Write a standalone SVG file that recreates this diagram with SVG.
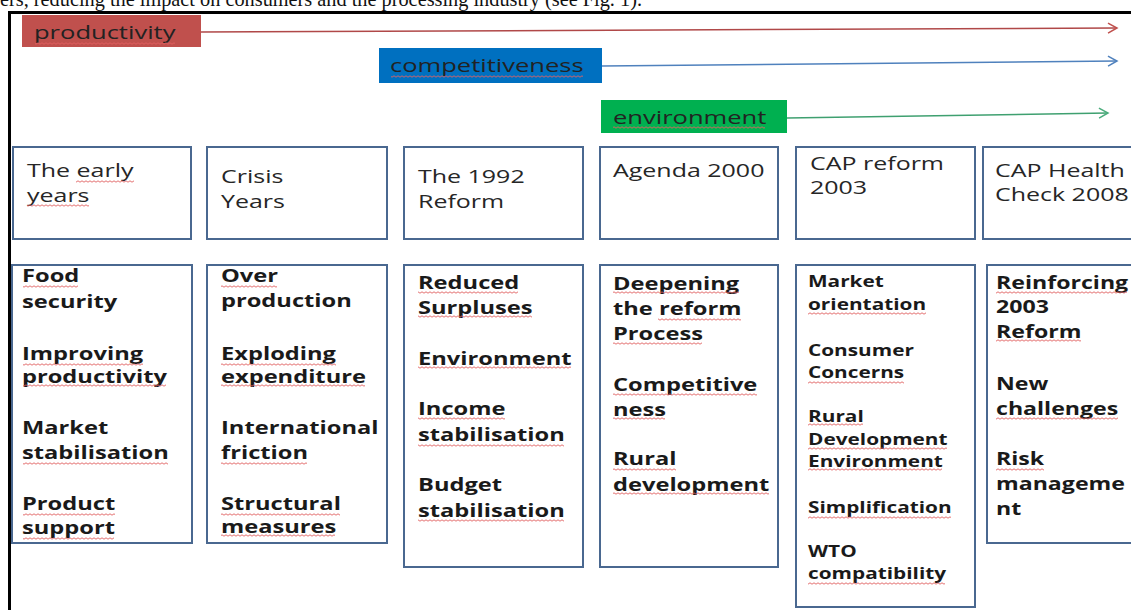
<svg xmlns="http://www.w3.org/2000/svg" width="1131" height="610" viewBox="0 0 1131 610">
<style>
.cap{font-family:"Liberation Serif",serif;font-size:21px;fill:#111}
.frame{stroke:#000;stroke-width:3;fill:none}
.lbl{font-family:"Open Sans","Liberation Sans",sans-serif;font-size:18.5px;fill:#222}
.box{fill:#fff;stroke:#4a6890;stroke-width:2}
.hd{font-family:"Open Sans","Liberation Sans",sans-serif;font-size:18.5px;fill:#262626}
.ct{font-family:"Open Sans","Liberation Sans",sans-serif;font-size:18.5px;font-weight:700;fill:#1a1a1a}
.ct5{font-size:16px}
.sq{fill:url(#wv)}
.ar{fill:none;stroke-width:1.5}
</style>
<defs>
<pattern id="wv" width="4" height="3" patternUnits="userSpaceOnUse"><path d="M0,2.2 C1,2.2 1,0.8 2,0.8 C3,0.8 3,2.2 4,2.2" fill="none" stroke="#e06060" stroke-width="0.9"/></pattern>
<marker id="mr" markerWidth="12" markerHeight="12" refX="10" refY="6" orient="auto" markerUnits="userSpaceOnUse"><path d="M1,1 L10,6 L1,11" fill="none" stroke="#c0504d" stroke-width="1.5"/></marker>
<marker id="mb" markerWidth="12" markerHeight="12" refX="10" refY="6" orient="auto" markerUnits="userSpaceOnUse"><path d="M1,1 L10,6 L1,11" fill="none" stroke="#4f81bd" stroke-width="1.5"/></marker>
<marker id="mg" markerWidth="12" markerHeight="12" refX="10" refY="6" orient="auto" markerUnits="userSpaceOnUse"><path d="M1,1 L10,6 L1,11" fill="none" stroke="#4bac7c" stroke-width="1.5"/></marker>
</defs>
<rect width="1131" height="610" fill="#fff"/>
<text class="cap" x="0" y="6" textLength="642" lengthAdjust="spacingAndGlyphs">ers, reducing the impact on consumers and the processing industry (see Fig. 1).</text>
<path class="frame" d="M9.5,610 V12.5 H1131"/>

<g id="connectors">
<line class="ar" x1="201" y1="32" x2="1117" y2="28" stroke="#b04848" marker-end="url(#mr)"/>
<line class="ar" x1="602" y1="66" x2="1117" y2="61" stroke="#4f81bd" marker-end="url(#mb)"/>
<line class="ar" x1="787" y1="118" x2="1108" y2="113" stroke="#3fa070" marker-end="url(#mg)"/>
</g>

<g id="productivity">
<rect x="22" y="15" width="179" height="32" fill="#c0504d"/>
<g transform="translate(34,0) scale(1.38,1)"><text class="lbl" x="0" y="39">productivity</text></g>
<rect class="sq" x="35" y="42" width="140" height="3"/>
</g>
<g id="competitiveness">
<rect x="379" y="48" width="223" height="35" fill="#0070c0"/>
<g transform="translate(390,0) scale(1.38,1)"><text class="lbl" x="0" y="72">competitiveness</text></g>
<rect class="sq" x="391" y="75" width="192" height="3"/>
</g>
<g id="environment">
<rect x="601" y="100" width="186" height="33" fill="#00b050"/>
<g transform="translate(613,0) scale(1.38,1)"><text class="lbl" x="0" y="124">environment</text></g>
<rect class="sq" x="613" y="126" width="152" height="3"/>
</g>

<g id="h1">
<rect class="box" x="13" y="147" width="178" height="92"/>
<g transform="translate(27,0) scale(1.35,1)"><text class="hd" x="0" y="177">The early</text><text class="hd" x="0" y="202">years</text></g>
<rect class="sq" x="76" y="180" width="58" height="3"/><rect class="sq" x="27" y="204" width="62" height="3"/>
</g>
<g id="h2">
<rect class="box" x="207" y="147" width="180" height="92"/>
<g transform="translate(221,0) scale(1.35,1)"><text class="hd" x="0" y="183">Crisis</text><text class="hd" x="0" y="208">Years</text></g>
</g>
<g id="h3">
<rect class="box" x="404" y="147" width="179" height="92"/>
<g transform="translate(418,0) scale(1.35,1)"><text class="hd" x="0" y="183">The 1992</text><text class="hd" x="0" y="208">Reform</text></g>
</g>
<g id="h4">
<rect class="box" x="600" y="147" width="178" height="92"/>
<g transform="translate(613,0) scale(1.35,1)"><text class="hd" x="0" y="177">Agenda 2000</text></g>
</g>
<g id="h5">
<rect class="box" x="796" y="147" width="179" height="92"/>
<g transform="translate(810,0) scale(1.35,1)"><text class="hd" x="0" y="170">CAP reform</text><text class="hd" x="0" y="194">2003</text></g>
</g>
<g id="h6">
<rect class="box" x="983" y="147" width="160" height="92"/>
<g transform="translate(995,0) scale(1.35,1)"><text class="hd" x="0" y="177">CAP Health</text><text class="hd" x="0" y="201">Check 2008</text></g>
</g>

<g id="c1">
<rect class="box" x="12" y="265" width="180" height="278"/>
<g transform="translate(22,0) scale(1.28,1)">
<text class="ct" x="0" y="282">Food</text><text class="ct" x="0" y="308">security</text>
<text class="ct" x="0" y="360">Improving</text><text class="ct" x="0" y="383">productivity</text>
<text class="ct" x="0" y="434">Market</text><text class="ct" x="0" y="459">stabilisation</text>
<text class="ct" x="0" y="510">Product</text><text class="ct" x="0" y="534">support</text>
</g>
<rect class="sq" x="23" y="285" width="55" height="3"/><rect class="sq" x="23" y="363" width="120" height="3"/><rect class="sq" x="23" y="384" width="143" height="3"/><rect class="sq" x="23" y="462" width="145" height="3"/><rect class="sq" x="23" y="513" width="92" height="3"/><rect class="sq" x="23" y="537" width="91" height="3"/>
</g>
<g id="c2">
<rect class="box" x="207" y="265" width="180" height="278"/>
<g transform="translate(221,0) scale(1.28,1)">
<text class="ct" x="0" y="282">Over</text><text class="ct" x="0" y="307">production</text>
<text class="ct" x="0" y="360">Exploding</text><text class="ct" x="0" y="383">expenditure</text>
<text class="ct" x="0" y="434">International</text><text class="ct" x="0" y="459">friction</text>
<text class="ct" x="0" y="510">Structural</text><text class="ct" x="0" y="533">measures</text>
</g>
<rect class="sq" x="221" y="285" width="56" height="3"/><rect class="sq" x="221" y="363" width="115" height="3"/><rect class="sq" x="221" y="384" width="144" height="3"/><rect class="sq" x="221" y="462" width="86" height="3"/><rect class="sq" x="221" y="513" width="119" height="3"/><rect class="sq" x="221" y="534" width="114" height="3"/>
</g>
<g id="c3">
<rect class="box" x="404" y="265" width="179" height="302"/>
<g transform="translate(418,0) scale(1.28,1)">
<text class="ct" x="0" y="289">Reduced</text><text class="ct" x="0" y="314">Surpluses</text>
<text class="ct" x="0" y="365">Environment</text>
<text class="ct" x="0" y="415">Income</text><text class="ct" x="0" y="441">stabilisation</text>
<text class="ct" x="0" y="491">Budget</text><text class="ct" x="0" y="517">stabilisation</text>
</g>
<rect class="sq" x="418" y="291" width="100" height="3"/><rect class="sq" x="418" y="315" width="114" height="3"/><rect class="sq" x="418" y="366" width="153" height="3"/><rect class="sq" x="418" y="417" width="87" height="3"/><rect class="sq" x="418" y="444" width="146" height="3"/><rect class="sq" x="418" y="519" width="146" height="3"/>
</g>
<g id="c4">
<rect class="box" x="600" y="265" width="178" height="302"/>
<g transform="translate(613,0) scale(1.28,1)">
<text class="ct" x="0" y="290">Deepening</text><text class="ct" x="0" y="315">the reform</text><text class="ct" x="0" y="340">Process</text>
<text class="ct" x="0" y="391">Competitive</text><text class="ct" x="0" y="416">ness</text>
<text class="ct" x="0" y="465">Rural</text><text class="ct" x="0" y="491">development</text>
</g>
<rect class="sq" x="613" y="291" width="126" height="3"/><rect class="sq" x="658" y="318" width="83" height="3"/><rect class="sq" x="613" y="342" width="89" height="3"/><rect class="sq" x="613" y="393" width="144" height="3"/><rect class="sq" x="613" y="417" width="52" height="3"/><rect class="sq" x="613" y="468" width="63" height="3"/><rect class="sq" x="613" y="492" width="156" height="3"/>
</g>
<g id="c5">
<rect class="box" x="796" y="265" width="179" height="342"/>
<g transform="translate(808,0) scale(1.3,1)">
<text class="ct ct5" x="0" y="287">Market</text><text class="ct ct5" x="0" y="310">orientation</text>
<text class="ct ct5" x="0" y="356">Consumer</text><text class="ct ct5" x="0" y="378">Concerns</text>
<text class="ct ct5" x="0" y="422">Rural</text><text class="ct ct5" x="0" y="445">Development</text><text class="ct ct5" x="0" y="467">Environment</text>
<text class="ct ct5" x="0" y="513">Simplification</text>
<text class="ct ct5" x="0" y="557">WTO</text><text class="ct ct5" x="0" y="579">compatibility</text>
</g>
<rect class="sq" x="808" y="312" width="118" height="3"/><rect class="sq" x="808" y="381" width="96" height="3"/><rect class="sq" x="808" y="423" width="55" height="3"/><rect class="sq" x="808" y="447" width="139" height="3"/><rect class="sq" x="808" y="468" width="134" height="3"/><rect class="sq" x="808" y="516" width="143" height="3"/><rect class="sq" x="808" y="582" width="137" height="3"/>
</g>
<g id="c6">
<rect class="box" x="987" y="265" width="160" height="278"/>
<g transform="translate(996,0) scale(1.25,1)">
<text class="ct" x="0" y="289">Reinforcing</text><text class="ct" x="0" y="313">2003</text><text class="ct" x="0" y="338">Reform</text>
<text class="ct" x="0" y="390">New</text><text class="ct" x="0" y="415">challenges</text>
<text class="ct" x="0" y="465">Risk</text><text class="ct" x="0" y="490">manageme</text><text class="ct" x="0" y="515">nt</text>
</g>
<rect class="sq" x="996" y="291" width="131" height="3"/><rect class="sq" x="996" y="339" width="85" height="3"/><rect class="sq" x="996" y="417" width="122" height="3"/><rect class="sq" x="996" y="468" width="48" height="3"/>
</g>
</svg>
